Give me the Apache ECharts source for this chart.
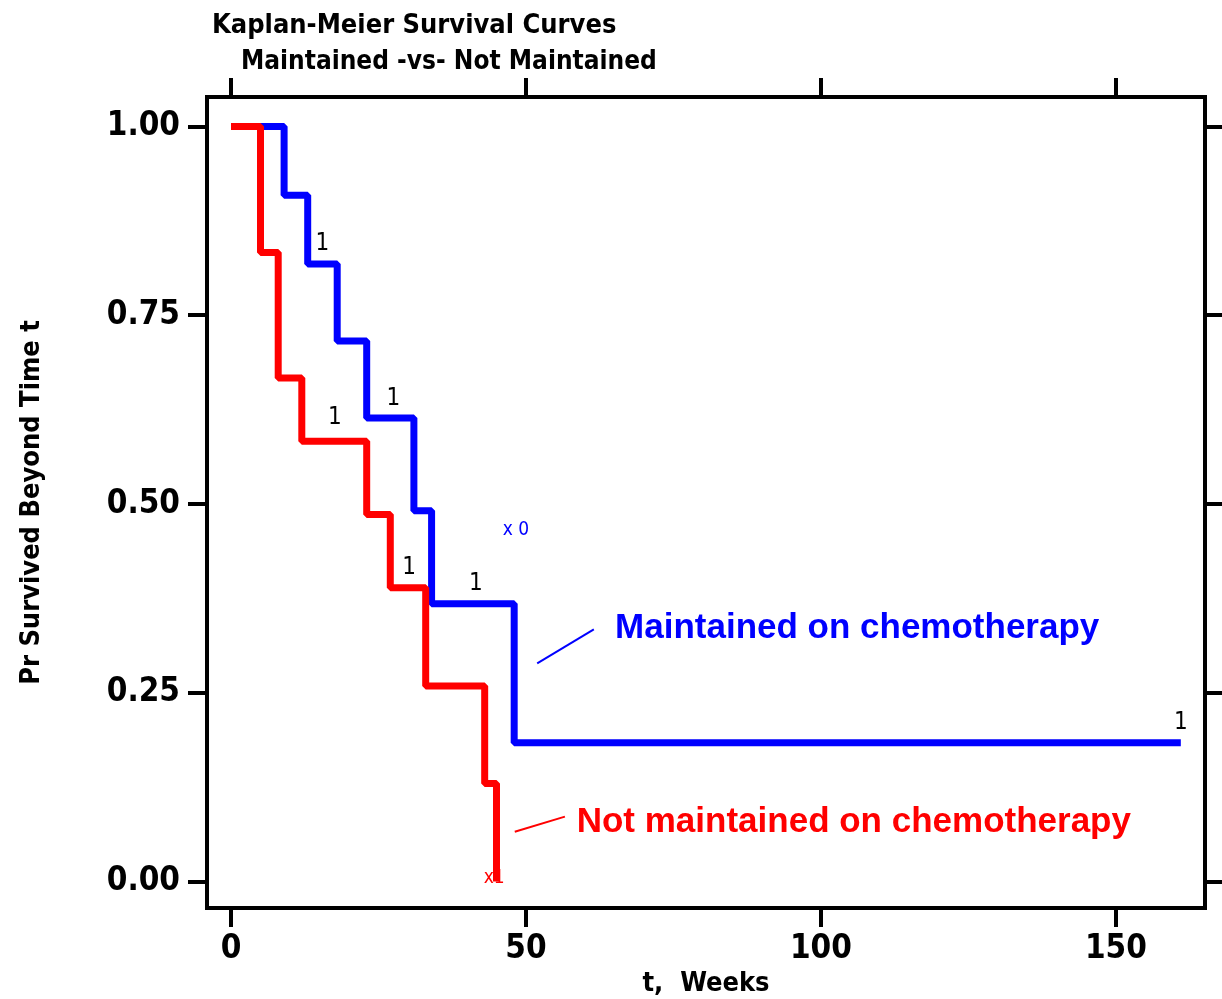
<!DOCTYPE html>
<html>
<head>
<meta charset="utf-8">
<script src="https://cdn.jsdelivr.net/npm/echarts@6/dist/echarts.min.js"></script>
<style>
  html, body { margin: 0; padding: 0; background: #fff; }
  #main { width: 1222px; height: 999px; }
</style>
</head>
<body>
<div id="main"></div>
<script>
// KM step points [weeks, survival]
const maintained = [[0, 1], [9, 0.909], [13, 0.818], [18, 0.716], [23, 0.614], [31, 0.491], [34, 0.368], [48, 0.184], [161, 0.184]];
const notMaintained = [[0, 1], [5, 0.833], [8, 0.667], [12, 0.583], [23, 0.486], [27, 0.389], [33, 0.259], [43, 0.130], [45, 0]];

// censoring count labels
const blueMarks = [[15.5, 0.845], [27.5, 0.64], [41.5, 0.395], [161, 0.21]];
const blueMarkText = ['1', '1', '1', '1'];
const redMarks = [[17.6, 0.614], [30.2, 0.416]];
const redMarkText = ['1', '1'];
const blueEnd = [[48.3, 0.465]];
const redEnd = [[44.6, 0.004]];

// annotation pointers and texts
const bluePointer = [[51.9, 0.289], [61.5, 0.334]];
const redPointer = [[48.1, 0.066], [56.6, 0.086]];
const blueNote = [[65.1, 0.336]];
const redNote = [[58.6, 0.079]];

const xTicks = [0, 50, 100, 150];
const yTicks = [0, 0.25, 0.5, 0.75, 1];

const narrow = "'Liberation Sans Narrow', 'DejaVu Sans Condensed', sans-serif";
const axisLine = { show: true, onZero: false, lineStyle: { color: '#000', width: 4, cap: 'square' } };
const tick = { show: true, length: 19, lineStyle: { color: '#000', width: 4 } };

function textPoints(pts, txt) {
  return pts.map((p, i) => ({ value: p, name: txt[i] }));
}
function labelSeries(pts, txt, color, size, family, weight, pos) {
  return {
    type: 'scatter',
    data: textPoints(pts, txt),
    symbolSize: 0,
    itemStyle: { color: color, opacity: 1 },
    silent: true,
    z: 5,
    label: {
      show: true,
      formatter: '{b}',
      position: pos || 'inside',
      distance: 0,
      color: color,
      opacity: 1,
      textBorderWidth: 0,
      fontSize: size,
      fontWeight: weight,
      fontFamily: family
    }
  };
}

let myChart = echarts.init(document.getElementById('main'));
myChart.setOption({
  animation: false,
  backgroundColor: '#fff',
  title: [
    { text: 'Kaplan-Meier Survival Curves', left: 207, top: 7,
      textStyle: { fontSize: 27, fontWeight: 'bold', fontFamily: narrow, color: '#000' } },
    { text: 'Maintained -vs- Not Maintained', left: 236, top: 44,
      textStyle: { fontSize: 26, fontWeight: 'bold', fontFamily: narrow, color: '#000' } }
  ],
  grid: { left: 207, right: 17, top: 97, bottom: 91, outerBoundsMode: 'none', containLabel: false },
  xAxis: [
    {
      type: 'value', min: -4.07, max: 165.1, position: 'bottom',
      axisLine: axisLine,
      axisTick: Object.assign({ customValues: xTicks }, tick),
      axisLabel: { customValues: xTicks, margin: 25, fontSize: 33, fontWeight: 'bold', fontFamily: narrow, color: '#000' },
      splitLine: { show: false },
      name: 't,  Weeks', nameLocation: 'middle', nameGap: 58,
      nameTextStyle: { fontSize: 27, fontWeight: 'bold', fontFamily: narrow, color: '#000' }
    },
    {
      type: 'value', min: -4.07, max: 165.1, position: 'top',
      axisLine: axisLine,
      axisTick: Object.assign({ customValues: xTicks }, tick),
      axisLabel: { show: false },
      splitLine: { show: false }
    }
  ],
  yAxis: [
    {
      type: 'value', min: -0.035, max: 1.039, position: 'left',
      axisLine: axisLine,
      axisTick: Object.assign({ customValues: yTicks }, tick),
      axisLabel: { customValues: yTicks, margin: 27, formatter: v => v.toFixed(2),
        fontSize: 33, fontWeight: 'bold', fontFamily: narrow, color: '#000' },
      splitLine: { show: false },
      name: 'Pr Survived Beyond Time t', nameLocation: 'middle', nameGap: 162,
      nameTextStyle: { fontSize: 27, fontWeight: 'bold', fontFamily: narrow, color: '#000' }
    },
    {
      type: 'value', min: -0.035, max: 1.039, position: 'right',
      axisLine: axisLine,
      axisTick: Object.assign({ customValues: yTicks }, tick),
      axisLabel: { show: false },
      splitLine: { show: false }
    }
  ],
  series: [
    {
      name: 'Maintained', type: 'line', step: 'end', data: maintained,
      showSymbol: false, lineStyle: { color: '#0000ff', width: 7 }, z: 3
    },
    {
      name: 'Not maintained', type: 'line', step: 'end', data: notMaintained,
      showSymbol: false, lineStyle: { color: '#ff0000', width: 7 }, z: 4
    },
    { type: 'line', data: bluePointer, showSymbol: false, lineStyle: { color: '#0000ff', width: 2 } },
    { type: 'line', data: redPointer, showSymbol: false, lineStyle: { color: '#ff0000', width: 2 } },
    labelSeries(blueMarks, blueMarkText, '#000', 24, narrow, 'normal'),
    labelSeries(redMarks, redMarkText, '#000', 24, narrow, 'normal'),
    labelSeries(blueEnd, ['x 0'], '#0000ff', 19, narrow, 'normal'),
    labelSeries(redEnd, ['x1'], '#ff0000', 19, narrow, 'normal'),
    labelSeries(blueNote, ['Maintained on chemotherapy'], '#0000ff', 35, "'Liberation Sans', Arial, sans-serif", 'bold', 'right'),
    labelSeries(redNote, ['Not maintained on chemotherapy'], '#ff0000', 35, "'Liberation Sans', Arial, sans-serif", 'bold', 'right')
  ]
});
</script>
</body>
</html>
